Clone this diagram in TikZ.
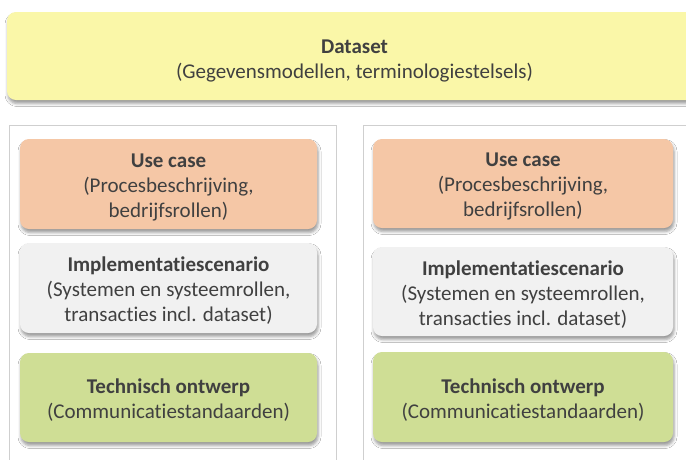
\documentclass[tikz,border=0pt]{standalone}
\usepackage{fontspec}
\setmainfont[Ligatures={NoCommon,NoRare,NoContextual}]{Carlito}
\usetikzlibrary{shadows.blur}
\definecolor{txt}{HTML}{404040}
\definecolor{yel}{HTML}{FAF7A8}
\definecolor{ora}{HTML}{F5C7A6}
\definecolor{gry}{HTML}{F1F1F1}
\definecolor{grn}{HTML}{CFDE95}
\definecolor{pan}{HTML}{CFCFCF}
\tikzset{
  card/.style={draw=none, rounded corners=9pt, inner sep=0pt,
    blur shadow={shadow xshift=1pt, shadow yshift=-3.5pt, shadow blur radius=3pt, shadow opacity=40}},
  cardtext/.style={align=center, text=txt, font=\fontsize{21}{25}\selectfont,
    inner sep=0pt, yshift=-3pt},
  panel/.style={draw=pan, line width=1pt, fill=white, inner sep=0pt, anchor=north west}
}
\begin{document}
\begin{tikzpicture}[x=1pt,y=-1pt]
\useasboundingbox (0,0) rectangle (686,459);
\clip (0,0) rectangle (686,459);
\fill[white] (0,0) rectangle (686,459);
% top dataset card
\node[card, fill=yel, minimum width=695pt, minimum height=88pt] (ds) at (354.5,56) {};
\node[cardtext, yshift=-2pt] (dsT) at (ds.center) {\textbf{Dataset}\\(Gegevensmodellen, terminologiestelsels)};
% panels
\node[panel, minimum width=327pt, minimum height=360pt] (lp) at (9,125) {};
\node[panel, minimum width=340pt, minimum height=360pt] (rp) at (363,125) {};
% left column
\node[card, fill=ora, minimum width=297pt, minimum height=90pt] (luc) at (168.5,184) {};
\node[cardtext] (lucT) at (luc.center) {\textbf{Use case}\\(Procesbeschrijving,\\bedrijfsrollen)};
\node[card, fill=gry, minimum width=297pt, minimum height=90pt] (lim) at (168.5,288) {};
\node[cardtext] (limT) at (lim.center) {\textbf{Implementatiescenario}\\(Systemen en systeemrollen,\\transacties incl. dataset)};
\node[card, fill=grn, minimum width=297pt, minimum height=89pt] (lte) at (168.5,397.5) {};
\node[cardtext] (lteT) at (lte.center) {\textbf{Technisch ontwerp}\\(Communicatiestandaarden)};
% right column
\node[card, fill=ora, minimum width=300pt, minimum height=89pt] (ruc) at (523,183.5) {};
\node[cardtext] (rucT) at (ruc.center) {\textbf{Use case}\\(Procesbeschrijving,\\bedrijfsrollen)};
\node[card, fill=gry, minimum width=300pt, minimum height=89pt] (rim) at (523,291.5) {};
\node[cardtext] (rimT) at (rim.center) {\textbf{Implementatiescenario}\\(Systemen en systeemrollen,\\transacties incl. dataset)};
\node[card, fill=grn, minimum width=300pt, minimum height=90pt] (rte) at (523,397) {};
\node[cardtext] (rteT) at (rte.center) {\textbf{Technisch ontwerp}\\(Communicatiestandaarden)};
\end{tikzpicture}
\end{document}
